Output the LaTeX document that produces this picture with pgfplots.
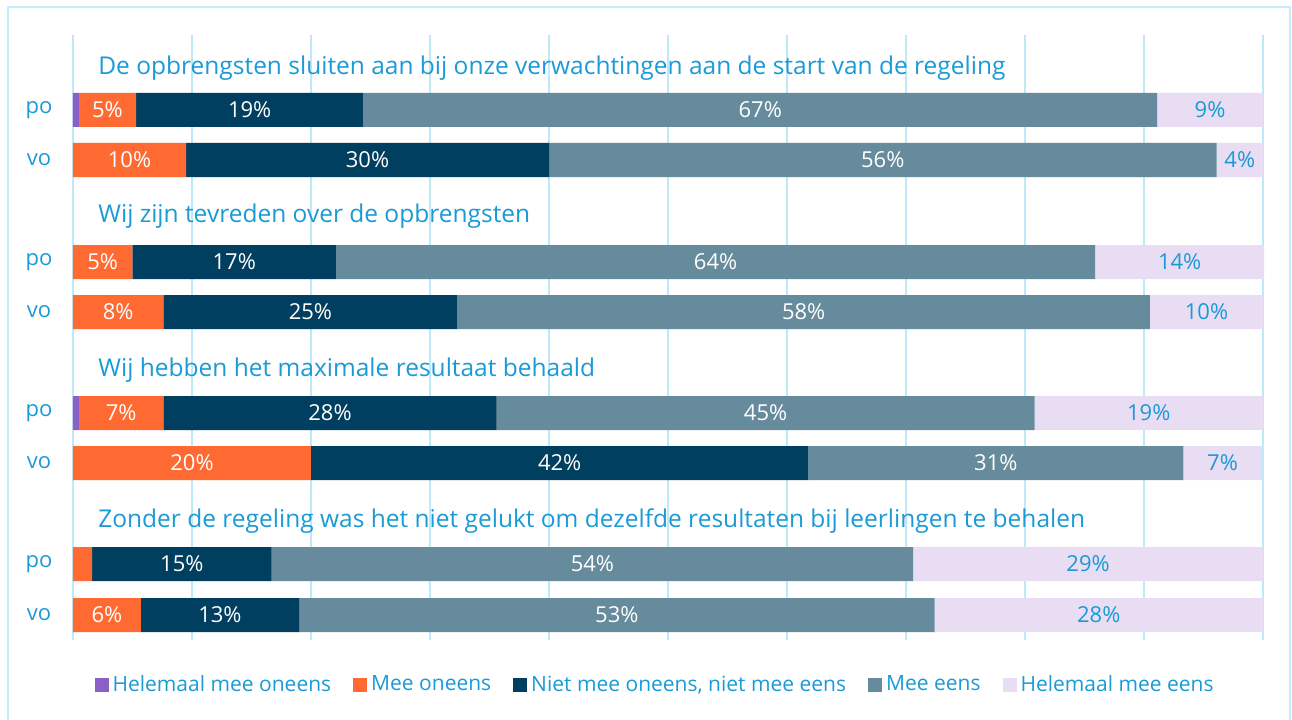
\documentclass[border=0pt]{standalone}
\usepackage{pgfplots}
\pgfplotsset{compat=1.18}
\usepackage{fontspec}
\setmainfont{Open Sans}
\definecolor{cpurple}{HTML}{8A5FC6}
\definecolor{corange}{HTML}{FF6A33}
\definecolor{cnavy}{HTML}{003F5F}
\definecolor{cgray}{HTML}{668B9C}
\definecolor{clav}{HTML}{E8DDF2}
\definecolor{ctext}{HTML}{1A9AD6}
\definecolor{cgrid}{HTML}{BDE9F9}
\definecolor{cborder}{HTML}{C5ECFA}
\begin{document}
\begin{tikzpicture}[x=0.5pt,y=0.5pt]
\path[use as bounding box] (0,0) rectangle (1292,719);
\draw[cborder, line width=1pt] (8,-10) rectangle (1290,712);
\begin{axis}[
  at={(36.5pt,39.5pt)}, anchor=south west,
  scale only axis, width=595pt, height=302.5pt,
  xmin=0, xmax=100, ymin=-640, ymax=-35,
  xbar stacked, bar width=34,
  axis line style={draw=none},
  xtick={0,10,...,100}, xticklabels={},
  xmajorgrids, grid style={cgrid, line width=1pt},
  major tick length=0pt,
  ytick={-110,-160,-262,-312,-413,-463,-564,-615},
  yticklabels={po,vo,po,vo,po,vo,po,vo},
  yticklabel style={text=ctext, font=\fontsize{11}{13}\selectfont, anchor=center, xshift=-17pt},
  clip=false,
  point meta=explicit symbolic,
  nodes near coords,
  every node near coord/.append style={anchor=center, font=\fontsize{11}{13}\selectfont},
  legend style={at={(axis cs:49,-685)}, anchor=center, draw=none, fill=none,
     legend columns=5, font=\fontsize{10.5}{12}\selectfont, text=ctext,
     /tikz/every even column/.append style={column sep=9pt},
     legend cell align=left},
  legend image code/.code={\draw[#1,draw=none] (0pt,-3.5pt) rectangle (7pt,3.5pt);},
]
\addplot[fill=cpurple, draw=none, every node near coord/.append style={text=white}] coordinates {
 (0.5,-110) [] (0,-160) [] (0,-262) [] (0,-312) [] (0.5,-413) [] (0,-463) [] (0,-564) [] (0,-615) []};
\addplot[fill=corange, draw=none, every node near coord/.append style={text=white}] coordinates {
 (4.8,-110) [5\%] (9.5,-160) [10\%] (5.0,-262) [5\%] (7.6,-312) [8\%] (7.1,-413) [7\%] (20.0,-463) [20\%] (1.6,-564) [] (5.7,-615) [6\%]};
\addplot[fill=cnavy, draw=none, every node near coord/.append style={text=white}] coordinates {
 (19.1,-110) [19\%] (30.5,-160) [30\%] (17.1,-262) [17\%] (24.7,-312) [25\%] (28.0,-413) [28\%] (41.8,-463) [42\%] (15.1,-564) [15\%] (13.3,-615) [13\%]};
\addplot[fill=cgray, draw=none, every node near coord/.append style={text=white}] coordinates {
 (66.7,-110) [67\%] (56.1,-160) [56\%] (63.8,-262) [64\%] (58.2,-312) [58\%] (45.2,-413) [45\%] (31.5,-463) [31\%] (53.9,-564) [54\%] (53.4,-615) [53\%]};
\addplot[fill=clav, draw=none, every node near coord/.append style={text=ctext}] coordinates {
 (8.9,-110) [9\%] (3.9,-160) [4\%] (14.2,-262) [14\%] (9.5,-312) [10\%] (19.2,-413) [19\%] (6.6,-463) [7\%] (29.4,-564) [29\%] (27.6,-615) [28\%]};
\legend{Helemaal mee oneens, Mee oneens, {Niet mee oneens, niet mee eens}, Mee eens, Helemaal mee eens}
\node[anchor=west, inner sep=0pt, text=ctext, font=\fontsize{12.25}{15}\selectfont] at (axis cs:2.1,-68) {De opbrengsten sluiten aan bij onze verwachtingen aan de start van de regeling};
\node[anchor=west, inner sep=0pt, text=ctext, font=\fontsize{12.25}{15}\selectfont] at (axis cs:2.1,-216) {Wij zijn tevreden over de opbrengsten};
\node[anchor=west, inner sep=0pt, text=ctext, font=\fontsize{12.25}{15}\selectfont] at (axis cs:2.1,-370) {Wij hebben het maximale resultaat behaald};
\node[anchor=west, inner sep=0pt, text=ctext, font=\fontsize{12.25}{15}\selectfont] at (axis cs:2.1,-521) {Zonder de regeling was het niet gelukt om dezelfde resultaten bij leerlingen te behalen};
\end{axis}
\end{tikzpicture}
\end{document}
